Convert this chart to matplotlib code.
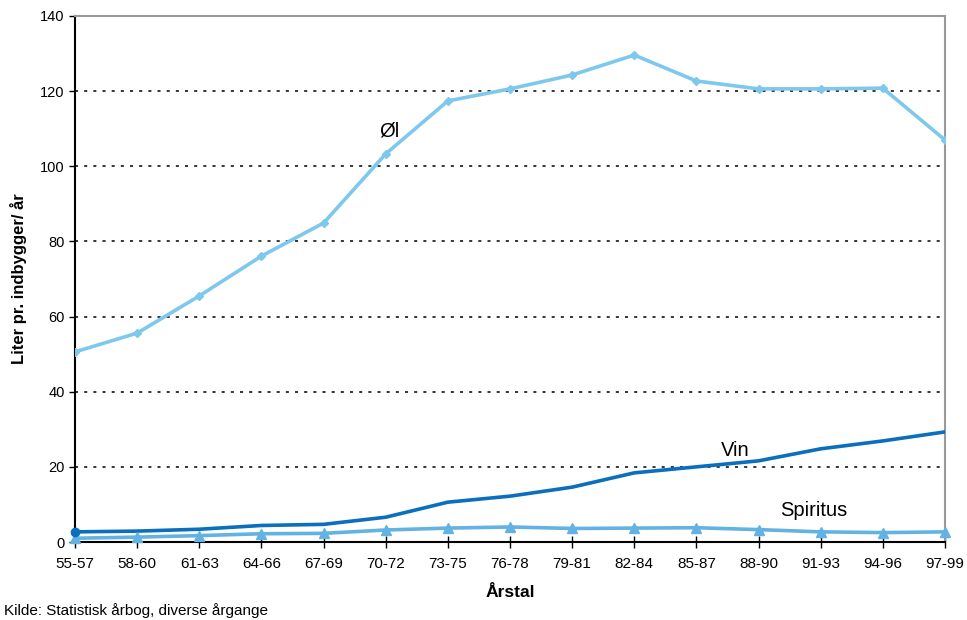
import matplotlib.pyplot as plt

plt.rcParams['font.family'] = ['Liberation Sans', 'DejaVu Sans']

perioder = ["55-57", "58-60", "61-63", "64-66", "67-69", "70-72", "73-75", "76-78",
            "79-81", "82-84", "85-87", "88-90", "91-93", "94-96", "97-99"]
oel = [50.6, 55.6, 65.5, 76.1, 84.9, 103.3, 117.4, 120.6, 124.3, 129.6,
       122.7, 120.6, 120.6, 120.8, 107.0]
vin = [2.7, 2.9, 3.4, 4.4, 4.7, 6.6, 10.6, 12.2, 14.6, 18.4,
       20.0, 21.6, 24.8, 26.9, 29.3]
spiritus = [1.0, 1.3, 1.7, 2.2, 2.3, 3.2, 3.7, 4.0, 3.6, 3.7,
            3.8, 3.3, 2.7, 2.5, 2.7]

x = range(len(perioder))

fig = plt.figure(figsize=(9.67, 6.2), dpi=100)
ax = fig.add_axes([0.0776, 0.1258, 0.8996, 0.8484])

ax.plot(x, oel, color="#7ec8ee", lw=2.6, marker="D", ms=4, zorder=3)
ax.plot(x, vin, color="#0a6fbd", lw=2.6, zorder=3)
ax.plot([0], [vin[0]], color="#0a6fbd", marker="o", ms=6, zorder=4, clip_on=False)
ax.plot(x, spiritus, color="#63b2e4", lw=2.6, marker="^", ms=7, zorder=3, clip_on=False)

ax.text(4.9, 108, "Øl", fontsize=14.5)
ax.text(10.4, 23.0, "Vin", fontsize=14.5)
ax.text(11.35, 7.0, "Spiritus", fontsize=14.5)

ax.set_xlim(0, len(perioder) - 1)
ax.set_ylim(0, 140)
ax.set_yticks(range(0, 141, 20))
ax.set_xticks(list(x))
ax.set_xticklabels(perioder)
ax.tick_params(axis="x", direction="inout", length=8, width=1, labelsize=11, pad=7)
ax.tick_params(axis="y", direction="out", length=4, width=1, labelsize=10.5)

for y in range(20, 140, 20):
    ax.axhline(y, color="black", lw=1.1, ls=(0, (2, 4)), zorder=1)

ax.spines["left"].set_color("black")
ax.spines["left"].set_linewidth(1.5)
ax.spines["bottom"].set_color("black")
ax.spines["bottom"].set_linewidth(1.5)
ax.spines["top"].set_color("#999999")
ax.spines["top"].set_linewidth(1.5)
ax.spines["right"].set_color("#999999")
ax.spines["right"].set_linewidth(1.5)

ax.set_xlabel("Årstal", fontsize=12.5, fontweight="bold", labelpad=10)
ax.set_ylabel("Liter pr. indbygger/ år", fontsize=12, fontweight="bold", labelpad=9)

fig.text(0.004, 0.008, "Kilde: Statistisk årbog, diverse årgange", fontsize=11)

fig.savefig("out.png", dpi=100)
